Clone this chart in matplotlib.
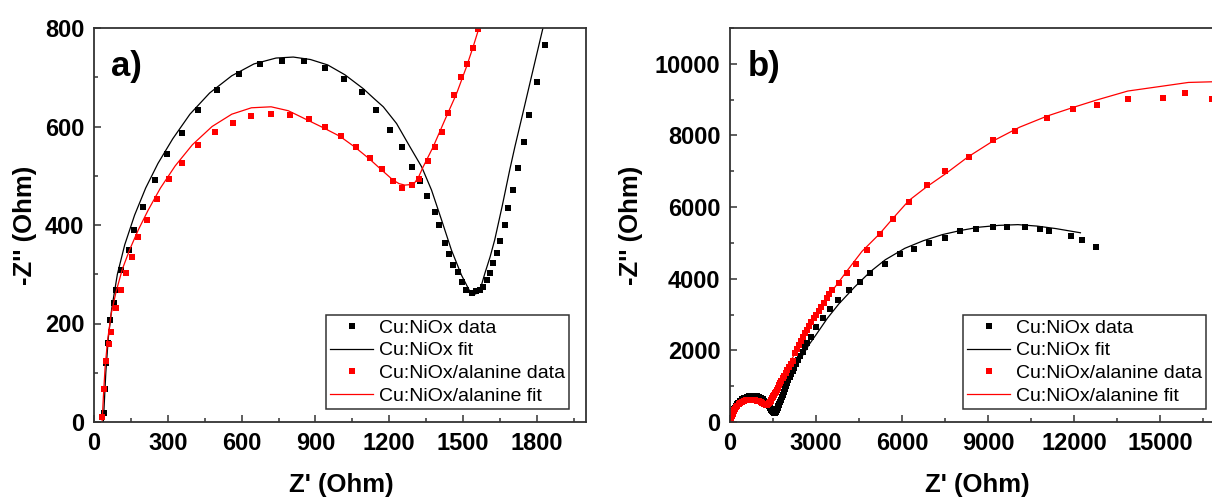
import numpy as np
import matplotlib
matplotlib.use("Agg")
import matplotlib.pyplot as plt
from matplotlib.ticker import MultipleLocator

plt.rcParams['font.family'] = ['Liberation Sans', 'DejaVu Sans']

# Cu:NiOx measured spectrum (Z', -Z'') in Ohm
nio_x = [39, 44, 48, 56, 67, 82, 90, 110, 141, 163, 199, 246, 295, 356, 424, 502, 588, 676,
         763, 852, 939, 1016, 1088, 1146, 1203, 1250, 1291, 1325, 1355, 1386, 1403, 1426, 1443,
         1460, 1478, 1494, 1512, 1535, 1553, 1568, 1582, 1596, 1609, 1622, 1639, 1652, 1670,
         1684, 1704, 1724, 1746, 1769, 1800, 1834, 1870, 1910, 1950, 1990, 2035, 2080, 2130,
         2185, 2247, 2310, 2379, 2455, 2537, 2610, 2683, 2841, 3013, 3238, 3476, 3766, 4163,
         4520, 4890, 5392, 5920, 6409, 6951, 7493, 8022, 8590, 9185, 9647, 10281, 10810, 11140,
         11894, 12290, 12753]
nio_y = [18, 66, 120, 160, 207, 241, 268, 309, 349, 390, 436, 491, 544, 587, 633, 674, 707, 726,
         733, 734, 718, 696, 671, 634, 593, 559, 518, 490, 459, 426, 400, 364, 342,
         319, 305, 285, 268, 261, 265, 268, 275, 288, 303, 322, 343, 368, 400,
         434, 472, 515, 568, 624, 690, 765, 840, 920, 1000, 1080, 1165, 1245, 1330,
         1415, 1501, 1620, 1733, 1850, 1965, 2080, 2196, 2382, 2641, 2892, 3142, 3401, 3679,
         3911, 4161, 4402, 4699, 4838, 5005, 5144, 5329, 5394, 5440, 5440, 5440, 5394, 5320,
         5190, 5070, 4884]

# Cu:NiOx equivalent-circuit fit
nio_fit_x = [38, 42, 48, 58, 72, 95, 125, 165, 210, 260, 320, 390, 470, 560, 650, 740, 810, 880,
             950, 1020, 1094, 1140, 1176, 1230, 1284, 1332, 1372, 1413, 1453, 1494, 1528, 1545,
             1560, 1575, 1589, 1610, 1629, 1660, 1690, 1711, 1740, 1780, 1825, 1900, 2000, 2114,
             2250, 2400, 2550, 2750, 3040, 3400, 3800, 4361, 4900, 5418, 6100, 6740, 7400, 8061,
             8700, 9383, 10044, 10704, 11365, 12224]
nio_fit_y = [0, 40, 100, 170, 230, 300, 360, 420, 475, 525, 575, 625, 668, 703, 727, 739, 741, 736,
             725, 705, 677, 656, 640, 606, 559, 518, 471, 410, 349, 298, 265, 259,
             262, 278, 302, 335, 370, 440, 512, 559, 620, 705, 800, 920, 1080, 1250,
             1450, 1680, 1880, 2150, 2480, 2900, 3300, 3780, 4200, 4530, 4850, 5060, 5230, 5350,
             5440, 5490, 5510, 5470, 5400, 5283]

# Cu:NiOx/alanine measured spectrum
ala_x = [33, 39, 48, 62, 70, 90, 110, 129, 154, 179, 216, 256, 303, 359, 424, 491, 564, 639, 720,
         797, 872, 940, 1006, 1065, 1122, 1172, 1214, 1253, 1291, 1322, 1358, 1386, 1415, 1440,
         1464, 1491, 1516, 1541, 1559, 1590, 1625, 1660, 1700, 1745, 1790, 1840, 1890, 1945,
         2000, 2060, 2120, 2190, 2273, 2350, 2418, 2480, 2551, 2620, 2683, 2760, 2841, 2925,
         3013, 3090, 3172, 3270, 3370, 3470, 3568, 3806, 4097, 4387, 4784, 5220, 5683, 6238,
         6872, 7506, 8326, 9185, 9938, 11075, 11973, 12793, 13876, 15105, 15858, 16823]
ala_y = [11, 68, 123, 158, 182, 231, 268, 302, 336, 375, 411, 452, 493, 526, 562, 588, 607, 621, 626,
         623, 615, 599, 581, 558, 537, 513, 490, 476, 481, 493, 529, 558, 589, 628,
         664, 700, 727, 760, 798, 850, 905, 960, 1020, 1085, 1150, 1220, 1295, 1370,
         1450, 1530, 1610, 1700, 1918, 2030, 2150, 2260, 2382, 2480, 2567, 2680, 2799, 2890,
         2984, 3100, 3216, 3330, 3448, 3560, 3679, 3883, 4161, 4421, 4810, 5255, 5672, 6135,
         6617, 7016, 7386, 7878, 8128, 8480, 8730, 8841, 9027, 9055, 9194, 9027]

# Cu:NiOx/alanine fit
ala_fit_x = [33, 38, 45, 55, 70, 90, 115, 145, 180, 220, 270, 330, 400, 480, 560, 640, 720, 790,
             860, 930, 1000, 1061, 1120, 1162, 1216, 1240, 1264, 1285, 1304, 1320, 1338, 1379,
             1426, 1474, 1514, 1540, 1565, 1640, 1718, 1850, 2000, 2200, 2379, 2700, 3172, 3600,
             4097, 4600, 5220, 5700, 6238, 6850, 7506, 8300, 9185, 10100, 11075, 12000, 12793,
             13876, 15105, 15990, 16900, 17500]
ala_fit_y = [0, 50, 110, 165, 220, 265, 310, 350, 390, 430, 475, 520, 563, 600, 625, 638, 640, 632,
             615, 598, 580, 558, 534, 515, 491, 484, 481, 482, 486, 498, 518, 559,
             613, 667, 721, 760, 800, 950, 1084, 1300, 1540, 1820, 2104, 2560, 3216, 3700,
             4235, 4760, 5255, 5700, 6182, 6560, 6923, 7400, 7850, 8230, 8545, 8790, 8990,
             9240, 9379, 9480, 9500, 9490]

W, H = 1212, 499


def px_axes(ax_left, ax_right, ax_top, ax_bottom):
    return [ax_left / W, (H - ax_bottom) / H, (ax_right - ax_left) / W, (ax_bottom - ax_top) / H]


def draw_panel(ax, xlim, ylim, xmaj, xmin, ymaj, ymin, tag, leg_anchor, ylab_x, xlab_x, xlab_max):
    ax.plot(nio_x, nio_y, 's', color='black', ms=4, mew=0, label='Cu:NiOx data')
    ax.plot(nio_fit_x, nio_fit_y, '-', color='black', lw=0.9, label='Cu:NiOx fit')
    ax.plot(ala_x, ala_y, 's', color='red', ms=4, mew=0, label='Cu:NiOx/alanine data')
    ax.plot(ala_fit_x, ala_fit_y, '-', color='red', lw=0.9, label='Cu:NiOx/alanine fit')

    ax.set_xlim(*xlim)
    ax.set_ylim(*ylim)
    ax.xaxis.set_major_locator(MultipleLocator(xmaj))
    ax.xaxis.set_minor_locator(MultipleLocator(xmin))
    ax.yaxis.set_major_locator(MultipleLocator(ymaj))
    ax.yaxis.set_minor_locator(MultipleLocator(ymin))
    ax.tick_params(which='both', direction='in', top=False, right=False, width=1.1,
                   color='#333333')
    ax.tick_params(which='major', length=5, labelsize=17, pad=7)
    ax.tick_params(which='minor', length=3)
    ax.xaxis.set_major_formatter(
        plt.FuncFormatter(lambda v, p: '%d' % v if v <= xlab_max else ''))
    for lab in ax.get_xticklabels() + ax.get_yticklabels():
        lab.set_fontweight('bold')
    for s in ax.spines.values():
        s.set_linewidth(1.3)
        s.set_color('#333333')

    ax.set_xlabel("Z' (Ohm)", fontsize=18.5, fontweight='bold')
    ax.set_ylabel("-Z'' (Ohm)", fontsize=18.5, fontweight='bold')
    ax.xaxis.set_label_coords(xlab_x, -0.129)
    ax.yaxis.set_label_coords(ylab_x, 0.5)

    ax.text(0.035, 0.945, tag, transform=ax.transAxes, fontsize=25, fontweight='bold',
            ha='left', va='top')

    leg = ax.legend(loc='lower right', bbox_to_anchor=leg_anchor, borderaxespad=0,
                    fontsize=14, frameon=True, fancybox=False, edgecolor='black',
                    handlelength=2.2, handletextpad=0.3, labelspacing=0.27,
                    borderpad=0.2, markerscale=1.0)
    leg.get_frame().set_linewidth(1.1)


fig = plt.figure(figsize=(W / 100, H / 100), dpi=100)

ax1 = fig.add_axes(px_axes(94, 586, 28, 422))
draw_panel(ax1, (0, 2000), (0, 800), 300, 150, 200, 100, 'a)',
           ((569 - 94) / 492, (422 - 409) / 394), -0.116, 0.502, 1800)

ax2 = fig.add_axes(px_axes(730, 1246, 28, 422))
draw_panel(ax2, (0, 18000), (0, 11000), 3000, 1500, 2000, 1000, 'b)',
           ((1206 - 730) / 516, (422 - 409) / 394), -0.169, 0.479, 15000)

fig.savefig('out.png', dpi=100)
